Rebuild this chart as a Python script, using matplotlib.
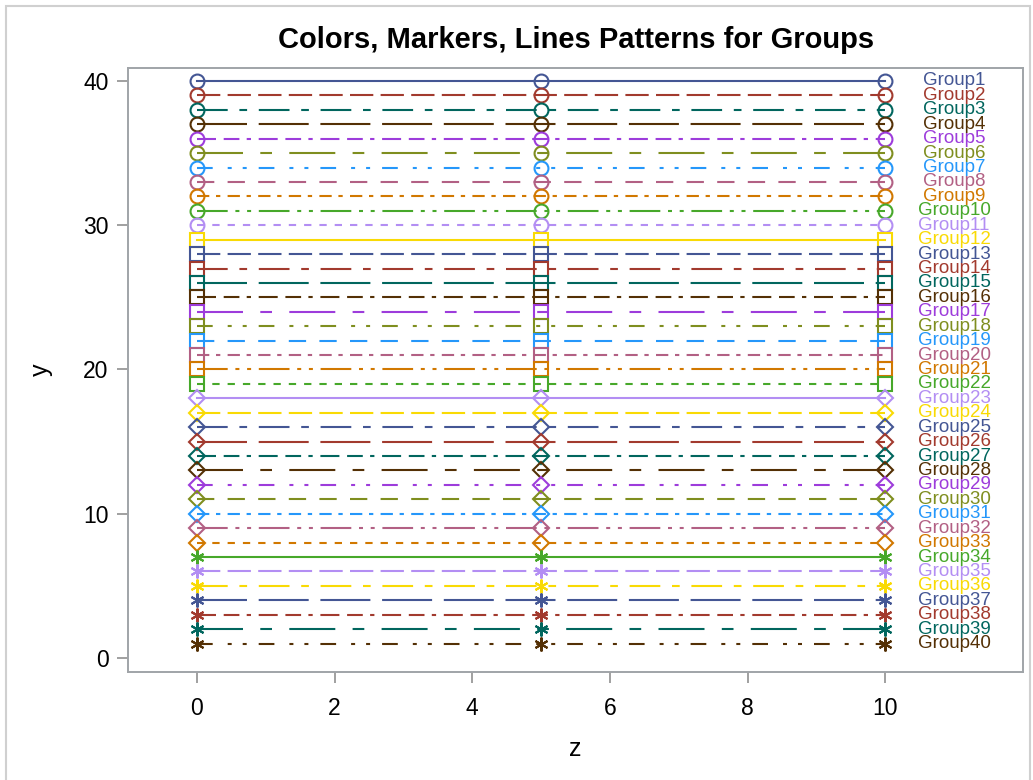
import matplotlib
matplotlib.use("Agg")
import matplotlib.pyplot as plt
from matplotlib.patches import Rectangle

plt.rcParams["font.family"] = ["Liberation Sans", "DejaVu Sans"]
plt.rcParams["lines.scale_dashes"] = False

# data
x_values = [0, 5, 10]
y_values = [40, 39, 38, 37, 36, 35, 34, 33, 32, 31,
            30, 29, 28, 27, 26, 25, 24, 23, 22, 21,
            20, 19, 18, 17, 16, 15, 14, 13, 12, 11,
            10, 9, 8, 7, 6, 5, 4, 3, 2, 1]
groups = ["Group%d" % (i + 1) for i in range(len(y_values))]

# SAS HTMLBlue-like group styles
colors = ["#445694", "#A23A2E", "#01665E", "#543005", "#9D3CDB", "#7F8E1F",
          "#2597FA", "#B26084", "#D17800", "#47A82A", "#B38EF3", "#F9DA04"]
markers = ["o", "s", "D", (6, 2, 0)]
marker_sizes = [10, 9.6, 7.9, 10]
# dash patterns in pixels (on, off, ...)
dash_px = [
    None,
    (23.3, 7.3),
    (30.7, 11.7, 7.7, 11.7),
    (50, 11.7),
    (19, 7.7, 15.7, 7.3, 4.3, 7.7),
    (46, 17.3, 11.7, 17.3),
    (15.7, 15, 4, 11, 4, 12),
    (17.3, 13.3),
    (12.3, 6.7, 4.3, 7.3),
    (30.7, 7.7, 4, 7.7, 4, 7.7),
    (7.3, 8),
]
px2pt = 72 / 100

fig = plt.figure(figsize=(10.33, 7.8), dpi=100)
W, H = 1033, 780
ax = fig.add_axes([128 / W, 1 - 672 / H, (1023 - 128) / W, (672 - 68) / H])

for i, (name, yv) in enumerate(zip(groups, y_values)):
    col = colors[i % 12]
    mk = markers[i // 11]
    ms = marker_sizes[i // 11]
    dp = dash_px[i % 11]
    ys = [yv] * len(x_values)
    line, = ax.plot(x_values, ys, color=col, lw=1.5, marker=mk, ms=ms,
                    mfc="none", mec=col, mew=1.5)
    if dp is not None:
        line.set_dashes([d * px2pt for d in dp])
    ax.text(11, yv, name, color=col, fontsize=13.5, ha="center", va="center")

ax.set_xlim(-1, 12)
ax.set_ylim(-0.97, 40.9)
ax.set_xticks([0, 2, 4, 6, 8, 10])
ax.set_yticks([0, 10, 20, 30, 40])
ax.tick_params(colors="#999999", labelcolor="black", labelsize=16.5,
               length=8, width=1.3)
ax.tick_params(axis="x", pad=10)
ax.tick_params(axis="y", pad=6)
for sp in ax.spines.values():
    sp.set_color("#a0a4a8")
    sp.set_linewidth(1.4)

ax.set_xlabel("z", fontsize=18, labelpad=12)
ax.set_ylabel("y", fontsize=18, labelpad=22)
fig.text(576 / W, 1 - 40 / H, "Colors, Markers, Lines Patterns for Groups",
         ha="center", va="center", fontsize=21, fontweight="bold")

fig.patches.append(Rectangle((6 / W, -0.05), (1030 - 6) / W, 1.05 - 6 / H,
                             transform=fig.transFigure, fill=False,
                             edgecolor="#d0d0d0", lw=1.5))

fig.savefig("out.png", dpi=100)
